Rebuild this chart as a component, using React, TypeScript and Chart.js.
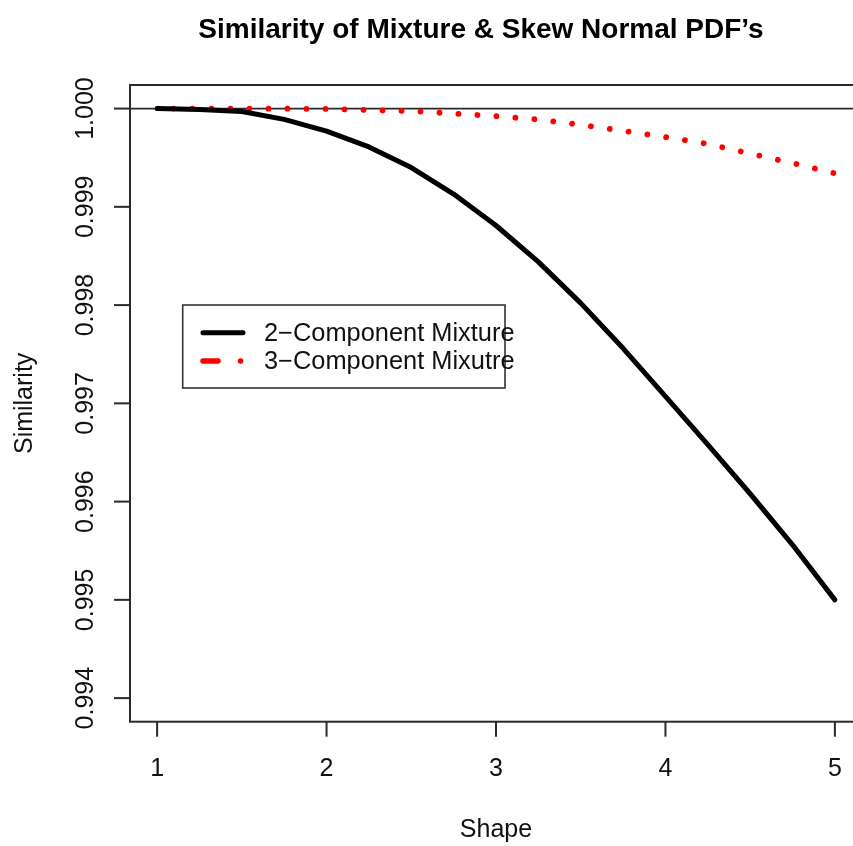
import React, { useEffect, useRef } from "react";
import { Chart, registerables } from "chart.js";

Chart.register(...registerables);

// ---- data ----
const shape = [1, 1.25, 1.5, 1.75, 2, 2.25, 2.5, 2.75, 3, 3.25, 3.5, 3.75, 4, 4.25, 4.5, 4.75, 5];
const twoComponent = [
  1.0, 0.99999, 0.99997, 0.99989, 0.99977, 0.99961, 0.9994, 0.99913, 0.99881,
  0.99844, 0.99802, 0.99756, 0.99707, 0.99658, 0.99608, 0.99556, 0.995,
];
const threeComponent = [
  1.0, 1.0, 1.0, 0.999999, 0.999997, 0.999985, 0.999975, 0.999949, 0.999923,
  0.999889, 0.999835, 0.999773, 0.99971, 0.99964, 0.999542, 0.999445, 0.999341,
];
const seriesLabels = ["2\u2212Component Mixture", "3\u2212Component Mixutre"];
const xTickValues = [1, 2, 3, 4, 5];
const xTickLabels = ["1", "2", "3", "4", "5"];
const yTickValues = [0.994, 0.995, 0.996, 0.997, 0.998, 0.999, 1.0];
const yTickLabels = ["0.994", "0.995", "0.996", "0.997", "0.998", "0.999", "1.000"];
const referenceLevel = 1;
const xLimits = [1, 5];
const yLimits = [0.994, 1];
const chartTitle = "Similarity of Mixture & Skew Normal PDF\u2019s";
const xTitle = "Shape";
const yTitle = "Similarity";

const FONT = '"Liberation Sans", Arial, Helvetica, sans-serif';
const AXIS = "#2a2a2a";

function extend(lim: number[]) {
  const d = (lim[1] - lim[0]) * 0.04;
  return [lim[0] - d, lim[1] + d];
}

const rPlot = {
  id: "rplot",
  beforeDatasetsDraw(chart: any) {
    const { ctx, chartArea: a, scales } = chart;
    const yr = scales.y.getPixelForValue(referenceLevel);
    ctx.save();
    ctx.strokeStyle = AXIS;
    ctx.lineWidth = 1.6;
    ctx.beginPath();
    ctx.moveTo(a.left, yr);
    ctx.lineTo(a.right, yr);
    ctx.stroke();
    ctx.restore();
  },
  afterDraw(chart: any) {
    const { ctx, chartArea: a, scales } = chart;
    const xs = scales.x;
    const ys = scales.y;
    ctx.save();
    // box
    ctx.strokeStyle = AXIS;
    ctx.lineWidth = 2;
    ctx.strokeRect(a.left, a.top, a.right - a.left, a.bottom - a.top);

    // y ticks + labels
    ctx.fillStyle = "#111";
    ctx.font = `25px ${FONT}`;
    yTickValues.forEach((v, i) => {
      const py = ys.getPixelForValue(v);
      ctx.beginPath();
      ctx.moveTo(a.left - 16, py);
      ctx.lineTo(a.left, py);
      ctx.stroke();
      ctx.save();
      ctx.translate(93, py);
      ctx.rotate(-Math.PI / 2);
      ctx.textAlign = "center";
      ctx.textBaseline = "alphabetic";
      ctx.fillText(yTickLabels[i], 0, 0);
      ctx.restore();
    });

    // x ticks + labels
    xTickValues.forEach((v, i) => {
      const px = xs.getPixelForValue(v);
      ctx.beginPath();
      ctx.moveTo(px, a.bottom);
      ctx.lineTo(px, a.bottom + 15);
      ctx.stroke();
      ctx.textAlign = "center";
      ctx.textBaseline = "alphabetic";
      ctx.fillText(xTickLabels[i], px, 776);
    });

    // axis titles
    ctx.textAlign = "center";
    ctx.fillText(xTitle, xs.getPixelForValue(3), 837);
    ctx.save();
    ctx.translate(32, (a.top + a.bottom) / 2);
    ctx.rotate(-Math.PI / 2);
    ctx.fillText(yTitle, 0, 0);
    ctx.restore();

    // main title
    ctx.font = `bold 28px ${FONT}`;
    ctx.fillStyle = "#000";
    ctx.fillText(chartTitle, 481, 38);

    // legend
    const lx = 182.7, ly = 305, lw = 322.3, lh = 83;
    ctx.strokeStyle = "#333";
    ctx.lineWidth = 1.6;
    ctx.strokeRect(lx, ly, lw, lh);
    const row1 = 332.7, row2 = 361;
    ctx.lineCap = "round";
    ctx.strokeStyle = "#000";
    ctx.lineWidth = 5;
    ctx.beginPath();
    ctx.moveTo(203, row1);
    ctx.lineTo(243, row1);
    ctx.stroke();
    ctx.strokeStyle = "#ff0000";
    ctx.lineWidth = 5.5;
    ctx.beginPath();
    ctx.moveTo(203, row2);
    ctx.lineTo(218, row2);
    ctx.stroke();
    ctx.beginPath();
    ctx.moveTo(240.5, row2);
    ctx.lineTo(240.6, row2);
    ctx.stroke();
    ctx.font = `25.4px ${FONT}`;
    ctx.fillStyle = "#111";
    ctx.textAlign = "left";
    ctx.textBaseline = "alphabetic";
    ctx.fillText(seriesLabels[0], 264, 340.5);
    ctx.fillText(seriesLabels[1], 264, 368.8);
    ctx.restore();
  },
};

export default function App() {
  const ref = useRef<HTMLCanvasElement | null>(null);
  useEffect(() => {
    if (!ref.current) return;
    const xr = extend(xLimits);
    const yr = extend(yLimits);
    const chart = new Chart(ref.current, {
      type: "line",
      data: {
        datasets: [
          {
            label: seriesLabels[0],
            data: shape.map((s, i) => ({ x: s, y: twoComponent[i] })),
            borderColor: "#000",
            borderWidth: 5,
            borderCapStyle: "round",
            borderJoinStyle: "round",
            pointRadius: 0,
            tension: 0,
            fill: false,
          },
          {
            label: seriesLabels[1],
            data: shape.map((s, i) => ({ x: s, y: threeComponent[i] })),
            borderColor: "#ff0000",
            borderWidth: 5.8,
            borderCapStyle: "round",
            borderDash: [0.01, 19],
            borderDashOffset: 2.7,
            pointRadius: 0,
            tension: 0,
            fill: false,
          },
        ],
      },
      options: {
        responsive: false,
        animation: false,
        devicePixelRatio: 1,
        layout: { padding: { left: 130, right: 18, top: 85, bottom: 124.3 } },
        scales: {
          x: { type: "linear", min: xr[0], max: xr[1], display: false },
          y: { type: "linear", min: yr[0], max: yr[1], display: false },
        },
        plugins: {
          legend: { display: false },
          title: { display: false },
          tooltip: { enabled: false },
        },
      },
      plugins: [rPlot],
    } as any);
    return () => chart.destroy();
  }, []);
  return (
    <div
      style={{
        position: "absolute",
        left: 0,
        top: 0,
        width: 853,
        height: 846,
        overflow: "hidden",
        background: "#fff",
      }}
    >
      <canvas ref={ref} width={880} height={846} style={{ display: "block" }} />
    </div>
  );
}
